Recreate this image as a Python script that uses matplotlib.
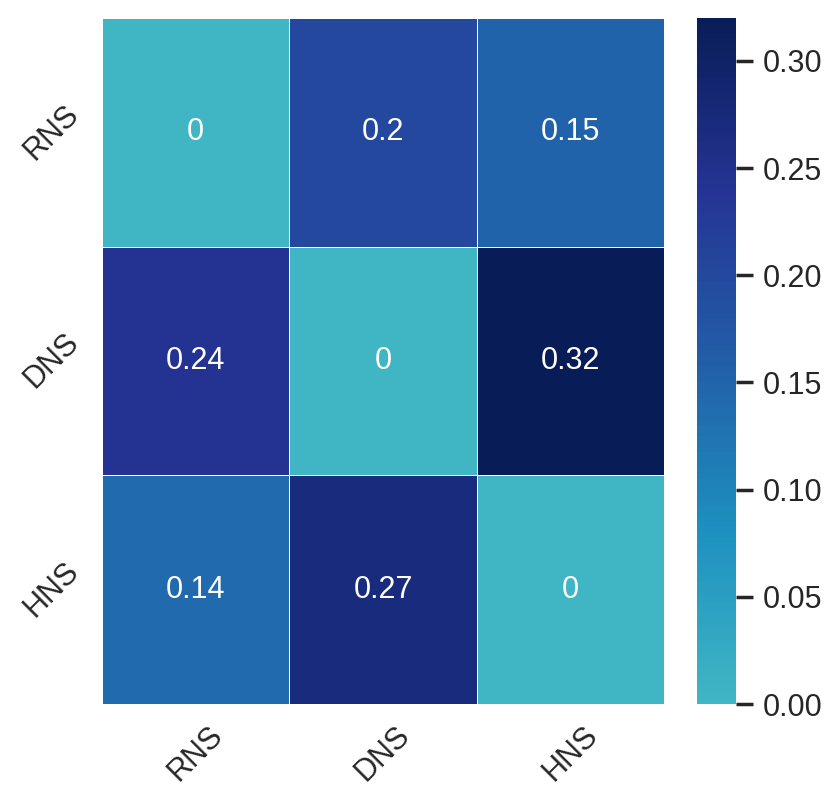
import numpy as np
import matplotlib
matplotlib.use("Agg")
import matplotlib.pyplot as plt
import seaborn as sns

labels = ["RNS", "DNS", "HNS"]
values = np.array([
    [0.00, 0.20, 0.15],
    [0.24, 0.00, 0.32],
    [0.14, 0.27, 0.00],
])

sns.set_theme(style="ticks")
plt.rcParams['font.family'] = ['Liberation Sans', 'DejaVu Sans']

fig = plt.figure(figsize=(8.31 / 2, 8.06 / 2), dpi=200)
ax = fig.add_axes([102 / 831, 1 - 704 / 806, (664 - 102) / 831, (704 - 18) / 806])
cax = fig.add_axes([697 / 831, 1 - 704 / 806, (736 - 697) / 831, (704 - 18) / 806])

sns.heatmap(values, ax=ax, cbar_ax=cax, cmap="YlGnBu", center=0, vmin=0, vmax=0.32,
            annot=True, annot_kws={"color": "white", "fontsize": 11},
            linewidths=0.3, linecolor="white",
            xticklabels=labels, yticklabels=labels)

for t in ax.texts:
    t.set_color("white")

ax.set_xticklabels(labels, rotation=45, fontsize=11)
ax.set_yticklabels(labels, rotation=45, fontsize=11, va="center")
ax.tick_params(length=0, pad=6)
cax.tick_params(labelsize=11)
cax.set_yticks([0, 0.05, 0.1, 0.15, 0.2, 0.25, 0.3])
cax.set_yticklabels(["0.00", "0.05", "0.10", "0.15", "0.20", "0.25", "0.30"])

fig.savefig("out.png", dpi=200)
